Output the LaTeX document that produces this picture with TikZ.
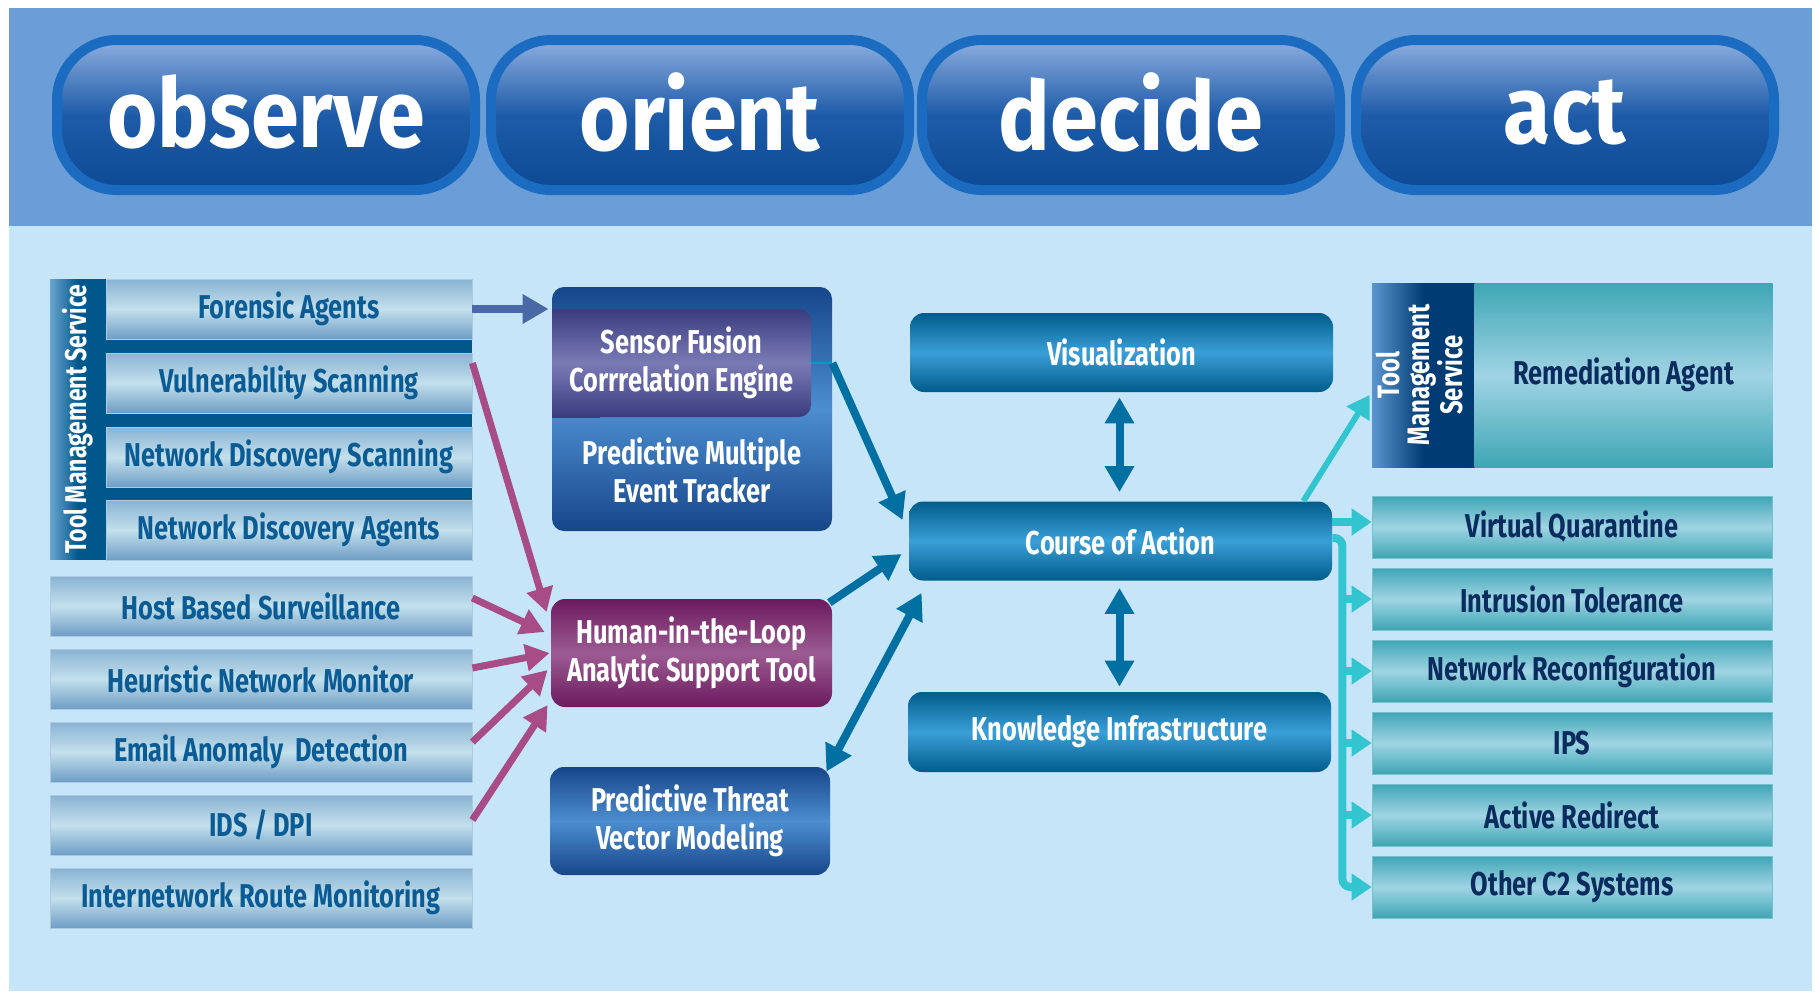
\documentclass[tikz,border=0pt]{standalone}
\usepackage{fontspec}
\newfontfamily\labelfont{Fira Sans}[FakeStretch=0.77]
\newfontfamily\phasefont{Fira Sans}[FakeStretch=0.90]
\usetikzlibrary{arrows.meta,calc,positioning}

\definecolor{bandblue}{HTML}{6B9ED6}
\definecolor{bodyblue}{HTML}{C6E5F9}
\definecolor{ringblue}{HTML}{1B6CC0}
\definecolor{pilltop}{HTML}{8DAEE0}
\definecolor{pillmid}{HTML}{1E5BA8}
\definecolor{pillbot}{HTML}{0D4A94}
\definecolor{rowtop}{HTML}{89B3D3}
\definecolor{rowmid}{HTML}{C3E0EC}
\definecolor{rowbot}{HTML}{6E9DC5}
\definecolor{rowtext}{HTML}{0B5C94}
\definecolor{tmsdark}{HTML}{00578C}
\definecolor{tmslight}{HTML}{6AA6CF}
\definecolor{navy}{HTML}{003B73}
\definecolor{navylight}{HTML}{5A95CF}
\definecolor{sfdark}{HTML}{393B7E}
\definecolor{sfmid}{HTML}{7A7BB5}
\definecolor{trkdark}{HTML}{17468A}
\definecolor{trkmid}{HTML}{4C8ED0}
\definecolor{hitldark}{HTML}{6B1A5E}
\definecolor{hitlmid}{HTML}{9C5C92}
\definecolor{coadark}{HTML}{005C8A}
\definecolor{coamid}{HTML}{3A9FD8}
\definecolor{tealdark}{HTML}{3EA6B4}
\definecolor{tealmid}{HTML}{A0D4E4}
\definecolor{tealtext}{HTML}{0A2C5E}
\definecolor{fusecol}{HTML}{4A68A6}
\definecolor{magcol}{HTML}{A84C88}
\definecolor{bluecol}{HTML}{0070A2}
\definecolor{cyancol}{HTML}{33C5CF}

\tikzset{
  labeltext/.style={font=\labelfont\bfseries\fontsize{16.5}{19}\selectfont},
  phase/.style={draw=ringblue, line width=5pt, rounded corners=30pt,
    minimum width=209pt, minimum height=75pt,
    top color=pilltop, bottom color=pillbot, middle color=pillmid,
    text=white, font=\phasefont\bfseries\fontsize{48}{52}\selectfont},
  obsrow/.style={labeltext, inner sep=0pt, minimum height=30pt,
    top color=rowtop, bottom color=rowbot, middle color=rowmid,
    draw=rowtop!70!white, line width=0.4pt, text=rowtext},
  tmsrow/.style={obsrow, minimum width=183pt},
  feedrow/.style={obsrow, minimum width=211pt},
  actrow/.style={labeltext, inner sep=0pt, minimum width=200pt, minimum height=31pt,
    top color=tealdark, bottom color=tealdark, middle color=tealmid,
    draw=tealdark!70!white, line width=0.4pt, text=tealtext},
  blockbox/.style={labeltext, rounded corners=7pt, inner sep=2pt, align=center, text=white},
  trackbox/.style={blockbox, minimum width=140pt, minimum height=54pt,
    top color=trkdark, bottom color=trkdark, middle color=trkmid},
  decidebox/.style={blockbox, minimum width=211.5pt, minimum height=39.5pt,
    top color=coadark, bottom color=coadark, middle color=coamid},
  fusearrow/.style={-{Triangle[length=13pt,width=14pt]}, line width=4pt, draw=fusecol},
  magarrow/.style={-{Triangle[length=12pt,width=13pt]}, line width=3.5pt, draw=magcol},
  bluearrow/.style={-{Triangle[length=13pt,width=14pt]}, line width=4pt, draw=bluecol},
  bluedouble/.style={{Triangle[length=13pt,width=14pt]}-{Triangle[length=13pt,width=14pt]}, line width=4pt, draw=bluecol},
  cyanarrow/.style={-{Triangle[length=10pt,width=13pt]}, line width=4pt, draw=cyancol}
}

\begin{document}
\begin{tikzpicture}[x=0.5pt, y=-0.5pt]
    \useasboundingbox (0,0) rectangle (1818,991);
    % Background
    \fill[white] (0,0) rectangle (1818,991);
    \fill[bandblue] (9,8) rectangle (1812,226);
    \fill[bodyblue] (9,226) rectangle (1812,991);
    % OODA phases
    \node[phase] (observe) at (266,115) {\raisebox{3.5pt}{observe}};
    \node[phase] (orient) at (700,115) {\raisebox{3.5pt}{orient}};
    \node[phase] (decide) at (1131,115) {\raisebox{3.5pt}{decide}};
    \node[phase] (act) at (1565,115) {\raisebox{3.5pt}{act}};

    % Observe: tool management group
    \node[fill=tmsdark, inner sep=0pt, minimum width=211pt, minimum height=140pt] (tmsgrp) at (261,419) {};
    \node[inner sep=0pt, minimum width=28pt, minimum height=140pt,
      left color=tmslight, right color=tmsdark, middle color=tmsdark, text=white,
      font=\labelfont\bfseries\fontsize{15}{17}\selectfont] (tmsL) at (78,419)
      {\rotatebox{90}{Tool Management Service}};
    \node[tmsrow] (fa) at (289,309) {Forensic Agents};
    \node[tmsrow] (vs) at (289,383) {Vulnerability Scanning};
    \node[tmsrow] (nds) at (289,457) {Network Discovery Scanning};
    \node[tmsrow] (nda) at (289,530) {Network Discovery Agents};
    % Observe: other feeds
    \node[feedrow] (hbs) at (261,606) {Host Based Surveillance};
    \node[feedrow] (hnm) at (261,679) {Heuristic Network Monitor};
    \node[feedrow] (ead) at (261,752) {Email Anomaly\ \ Detection};
    \node[feedrow] (ids) at (261,825) {IDS / DPI};
    \node[feedrow] (irm) at (261,898) {Internetwork Route Monitoring};

    % Orient
    \node[trackbox, minimum height=122pt, rounded corners=6pt] (sfbig) at (692,409) {};
    \shade[top color=sfdark, bottom color=sfdark, middle color=sfmid] (552,309) rectangle (600,417);
    \node[blockbox, rounded corners=6pt, minimum width=129.5pt, minimum height=54pt,
      top color=sfdark, bottom color=sfdark, middle color=sfmid] (sf) at (681.5,363)
      {Sensor Fusion\\Corrrelation Engine};
    \node[labeltext, align=center, text=white] (pmet) at (692,470) {Predictive Multiple\\Event Tracker};
    \node[blockbox, minimum width=140.5pt, minimum height=54pt,
      top color=hitldark, bottom color=hitldark, middle color=hitlmid] (hitl) at (691.5,653)
      {Human-in-the-Loop\\Analytic Support Tool};
    \node[trackbox] (ptvm) at (690,821) {Predictive Threat\\Vector Modeling};

    % Decide
    \node[decidebox] (vis) at (1121.5,352.5) {Visualization};
    \node[decidebox] (coa) at (1120.5,541) {Course of Action};
    \node[decidebox, minimum height=40pt] (ki) at (1119.5,732) {Knowledge Infrastructure};

    % Act
    \node[inner sep=0pt, minimum width=51.5pt, minimum height=92pt,
      left color=navylight, right color=navy, middle color=navy, text=white,
      font=\labelfont\bfseries\fontsize{15.5}{14}\selectfont] (tmsR) at (1423.5,375)
      {\rotatebox{90}{\begin{tabular}{@{}c@{}}Tool\\Management\\Service\end{tabular}}};
    \node[actrow, minimum width=149pt, minimum height=92pt, draw=none] (ra) at (1623.5,375) {Remediation Agent};
    \node[actrow] (vq) at (1572,527) {Virtual Quarantine};
    \node[actrow] (it) at (1572,599) {Intrusion Tolerance};
    \node[actrow] (nr) at (1572,671) {Network Reconfiguration};
    \node[actrow] (ips) at (1572,743) {IPS};
    \node[actrow] (ar) at (1572,815) {Active Redirect};
    \node[actrow] (oc) at (1572,887) {Other C2 Systems};

    % Observe to orient
    \draw[fusearrow] (fa.east) -- ($(sfbig.west |- fa.east)+(-3,0)$);
    \draw[magarrow] ($(vs.east)+(0,-20)$) -- ($(hitl.west)+(-4,-41)$);
    \draw[magarrow] ($(hbs.east)+(0,-8)$) -- ($(hitl.west)+(-6,-21)$);
    \draw[magarrow] ($(hnm.east)+(0,-11)$) -- ($(hitl.west)+(-1,0)$);
    \draw[magarrow] ($(ead.east)+(0,-10)$) -- ($(hitl.west)+(-3,17)$);
    \draw[magarrow] ($(ids.east)+(0,-5)$) -- ($(hitl.west)+(-3,52)$);

    % Orient to decide
    \draw[line width=1.2pt, draw=bluecol!70!cyan] (sf.east) -- (sfbig.east |- sf.east);
    \draw[bluearrow] (sfbig.east |- sf.east) -- ($(coa.west)+(-6,-21)$);
    \draw[bluearrow] ($(hitl.north east)+(-3,4)$) -- ($(coa.west)+(-7,13)$);
    \draw[bluedouble] ($(ptvm.north east)+(-4,5)$) -- ($(coa.south west)+(13,12)$);
    \draw[bluedouble] ($(vis.south)+(-2,5)$) -- ($(coa.north)+(-1,-9)$);
    \draw[bluedouble] ($(coa.south)+(-1,7)$) -- ($(ki.north)+(0,-5)$);

    % Decide to act
    \draw[-{Triangle[length=11pt,width=13pt]}, line width=3pt, draw=cyancol]
      ($(coa.north east)+(-29,0)$) -- ($(tmsR.west)+(-2,20)$);
    \coordinate (vqfeed) at ($(coa.east)+(0,-19)$);
    \draw[cyanarrow] (vqfeed) -- (vqfeed -| vq.west);
    \coordinate (bus) at ($(coa.east)+(10,-3)$);
    \draw[cyanarrow, rounded corners=4pt] (coa.east |- bus) -- (bus) -- (bus |- oc.west) -- (oc.west);
    \foreach \r in {it,nr,ips,ar}
      \draw[cyanarrow] (bus |- \r.west) -- (\r.west);
\end{tikzpicture}
\end{document}
